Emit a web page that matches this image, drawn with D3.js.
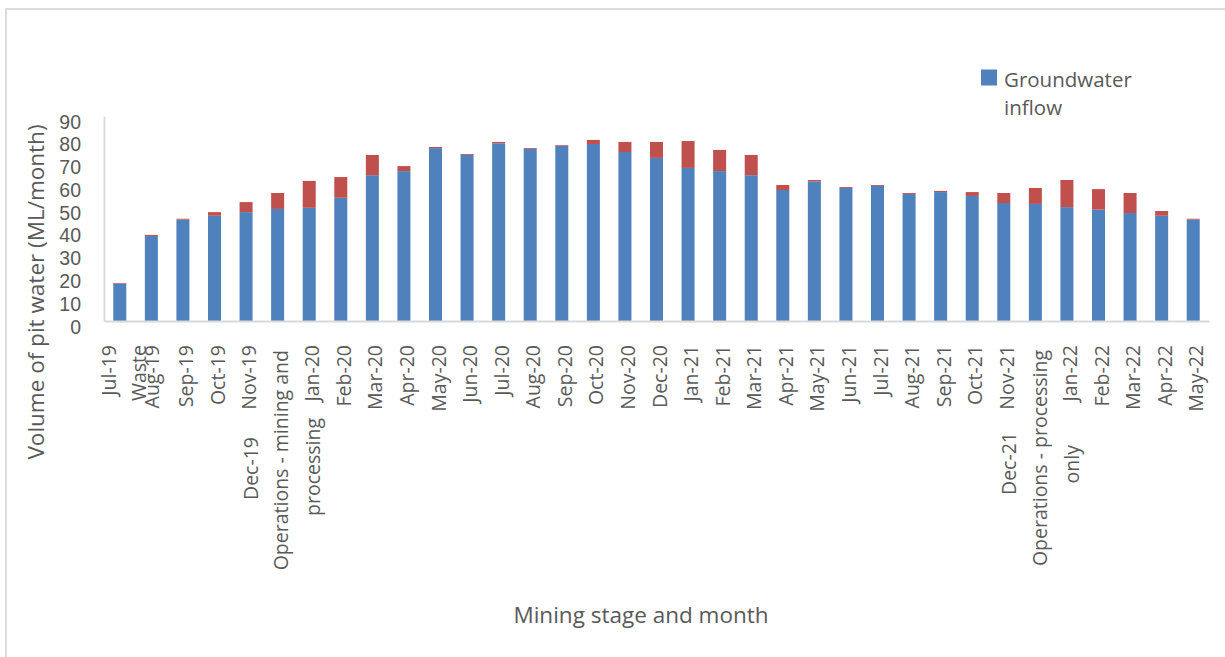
<!DOCTYPE html>
<html>
<head>
<meta charset="utf-8">
<script src="https://cdn.jsdelivr.net/npm/d3@7"></script>
<style>
  body { margin: 0; background: #fff; }
  svg { display: block; font-family: "Open Sans", sans-serif; }
</style>
</head>
<body>
<svg id="chart" width="1225" height="657"></svg>
<script>
const months = ["Jul-19", "Aug-19", "Sep-19", "Oct-19", "Nov-19", "Dec-19", "Jan-20", "Feb-20",
  "Mar-20", "Apr-20", "May-20", "Jun-20", "Jul-20", "Aug-20", "Sep-20", "Oct-20", "Nov-20",
  "Dec-20", "Jan-21", "Feb-21", "Mar-21", "Apr-21", "May-21", "Jun-21", "Jul-21", "Aug-21",
  "Sep-21", "Oct-21", "Nov-21", "Dec-21", "Jan-22", "Feb-22", "Mar-22", "Apr-22", "May-22"];

const groundwater = [16.4, 37.3, 44.5, 46.2, 47.8, 49.2, 49.7, 54.1, 64.0, 65.8, 75.9, 72.9,
  78.0, 75.5, 77.0, 77.7, 74.2, 71.6, 67.2, 65.8, 64.0, 57.5, 61.3, 58.4, 59.3, 55.8, 56.6,
  54.9, 51.8, 51.4, 50.0, 48.9, 47.4, 46.2, 44.5];

const runoff = [0.3, 0.5, 0.4, 1.6, 4.4, 7.0, 11.8, 9.1, 8.9, 2.2, 0.5, 0.4, 0.6, 0.4, 0.3,
  1.8, 4.4, 7.0, 11.8, 9.3, 8.9, 2.2, 0.6, 0.4, 0.4, 0.4, 0.5, 1.7, 4.4, 7.0, 11.9, 9.0, 8.8,
  2.1, 0.4];

const yTicks = [0, 10, 20, 30, 40, 50, 60, 70, 80, 90];

// stage names sit in the month row where Excel squeezed them
const stageLabels = [
  { at: "Jul-19", text: "Waste" },
  { at: "Dec-19", text: "Operations - mining and" },
  { at: "Dec-21", text: "Operations - processing" }
];
// wrapped leftovers pushed down the column
const spillLabels = [
  { at: "Nov-19", text: "Dec-19" },
  { at: "Jan-20", text: "processing" },
  { at: "Nov-21", text: "Dec-21" },
  { at: "Jan-22", text: "only" }
];

const textColor = "#595959";
const axisColor = "#d9d9d9";
const color = ["#4f81bd", "#c0504d"];

const svg = d3.select("#chart");

// chart area border (only top/left show in the crop)
svg.append("rect")
  .attr("x", 6).attr("y", 9)
  .attr("width", 1400).attr("height", 800)
  .attr("fill", "none")
  .attr("stroke", axisColor)
  .attr("stroke-width", 1.8);

const x = d3.scaleBand()
  .domain(months)
  .range([104, 1209])
  .paddingInner(0.588)
  .paddingOuter(0.294);

const y = d3.scaleLinear().domain([0, 90]).range([321, 116]);

const rows = months.map((m, i) => ({ month: m, gw: groundwater[i], ro: runoff[i] }));
const series = d3.stack().keys(["gw", "ro"])(rows);

series.forEach((s, k) => {
  svg.append("g")
    .selectAll("rect")
    .data(s)
    .enter()
    .append("rect")
    .attr("x", d => x(d.data.month))
    .attr("width", x.bandwidth())
    .attr("y", d => y(d[1]))
    .attr("height", d => y(d[0]) - y(d[1]))
    .attr("fill", color[k]);
});

// y axis (numbers are packed tight, so use a font with a short line box)
const yAxis = svg.append("g")
  .attr("transform", "translate(104,0)")
  .call(d3.axisLeft(y).tickValues(yTicks).tickSize(0).tickPadding(23));
yAxis.select(".domain").attr("stroke", axisColor).attr("stroke-width", 1.8);
yAxis.selectAll("text")
  .attr("fill", textColor)
  .attr("font-size", "19.5px")
  .attr("font-family", "Liberation Sans, Arial, sans-serif")
  .attr("dy", "0.62em");

// x axis line
const xAxis = svg.append("g")
  .attr("transform", "translate(0,321)")
  .call(d3.axisBottom(x).tickSize(0).tickFormat(""));
xAxis.select(".domain").attr("stroke", axisColor).attr("stroke-width", 1.8);

const center = m => x(m) + x.bandwidth() / 2;
const label = (m, text, dx, top) => {
  svg.append("text")
    .attr("transform", `translate(${center(m) + dx},${top}) rotate(-90)`)
    .attr("text-anchor", "end")
    .attr("fill", textColor)
    .attr("font-size", "19.5px")
    .text(text);
};

// month row
months.forEach(m => {
  if (m === "Dec-19" || m === "Dec-21") return;
  let dx = 10;
  if (m === "Jul-19") dx = -3.5;
  if (m === "Aug-19") dx = 8;
  label(m, m, dx, 345);
});

label(stageLabels[0].at, stageLabels[0].text, 26.5, 345);
label(stageLabels[1].at, stageLabels[1].text, 10.5, 350);
label(stageLabels[2].at, stageLabels[2].text, 12, 350);

label(spillLabels[0].at, spillLabels[0].text, 12, 437);
label(spillLabels[1].at, spillLabels[1].text, 11, 418);
label(spillLabels[2].at, spillLabels[2].text, 12, 432);
label(spillLabels[3].at, spillLabels[3].text, 12, 445);

// axis titles
svg.append("text")
  .attr("transform", "translate(44,292) rotate(-90)")
  .attr("text-anchor", "middle")
  .attr("fill", textColor)
  .attr("font-size", "22.5px")
  .text("Volume of pit water (ML/month)");

svg.append("text")
  .attr("x", 641).attr("y", 623)
  .attr("text-anchor", "middle")
  .attr("fill", textColor)
  .attr("font-size", "22.5px")
  .text("Mining stage and month");

// legend (only the first series is listed)
const legend = svg.append("g").attr("transform", "translate(981,69.5)");
legend.append("rect").attr("width", 16).attr("height", 16).attr("fill", color[0]);
legend.append("text")
  .attr("x", 23).attr("y", 17)
  .attr("fill", textColor)
  .attr("font-size", "20.5px")
  .selectAll("tspan")
  .data(["Groundwater", "inflow"])
  .enter()
  .append("tspan")
  .attr("x", 23)
  .attr("dy", (d, i) => (i === 0 ? 0 : 28.3))
  .text(d => d);
</script>
</body>
</html>
